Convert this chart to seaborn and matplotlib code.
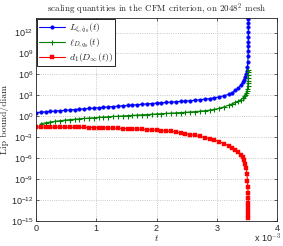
import matplotlib
matplotlib.use("Agg")
import matplotlib.pyplot as plt
import numpy as np
import pandas as pd
import seaborn as sns

# t in units of 1e-3, values as log10 exponents
t_main = [0.00, 0.08, 0.16, 0.24, 0.32, 0.40, 0.48, 0.56, 0.64, 0.72,
          0.80, 0.88, 0.96, 1.04, 1.12, 1.20, 1.28, 1.36, 1.44, 1.52,
          1.60, 1.68, 1.76, 1.84, 1.92, 2.00, 2.08, 2.16, 2.24, 2.32,
          2.40, 2.48, 2.56, 2.64, 2.72, 2.80, 2.88, 2.96, 3.04, 3.12, 3.20]
t_tail = [3.26, 3.31, 3.36, 3.40, 3.43, 3.455, 3.475, 3.49, 3.50, 3.51,
          3.516, 3.52, 3.522, 3.523, 3.524, 3.5245, 3.525, 3.5253, 3.5256, 3.526]

L_xi_log = [0.53, 0.58, 0.64, 0.69, 0.75, 0.80, 0.85, 0.91, 0.96, 1.02,
            1.07, 1.12, 1.18, 1.23, 1.29, 1.34, 1.39, 1.45, 1.50, 1.56,
            1.61, 1.66, 1.72, 1.77, 1.83, 1.88, 1.93, 1.98, 2.03, 2.08,
            2.13, 2.18, 2.24, 2.30, 2.37, 2.45, 2.54, 2.65, 2.78, 2.95, 3.15,
            3.40, 3.70, 4.05, 4.45, 4.85, 5.25, 5.65, 6.05, 6.50, 7.10,
            7.80, 8.60, 9.30, 10.0, 10.7, 11.4, 12.1, 12.8, 13.4, 14.0]

ell_D_log = [-1.05, -0.93, -0.82, -0.72, -0.63, -0.55, -0.48, -0.42, -0.36,
             -0.31, -0.26, -0.21, -0.16, -0.11, -0.07, -0.03, 0.01, 0.05,
             0.09, 0.13, 0.17, 0.21, 0.25, 0.29, 0.33, 0.37, 0.41, 0.45,
             0.49, 0.53, 0.57, 0.62, 0.67, 0.73, 0.80, 0.88, 0.98, 1.15,
             1.35, 1.60,
             1.80, 1.98, 2.18, 2.38, 2.60, 2.85, 3.10, 3.35, 3.60, 3.95,
             4.30, 4.70, 5.10, 5.50, 5.90, 6.30, 6.60]

d1_log = [-1.54, -1.54, -1.54, -1.55, -1.55, -1.56, -1.56, -1.57, -1.58,
          -1.59, -1.60, -1.61, -1.62, -1.64, -1.66, -1.68, -1.70, -1.72,
          -1.75, -1.78, -1.81, -1.84, -1.88, -1.92, -1.96, -2.00, -2.05,
          -2.10, -2.16, -2.23, -2.40, -2.50, -2.62, -2.75, -2.89, -3.04,
          -3.20, -3.39, -3.62, -3.90, -4.25,
          -4.55, -4.85, -5.15, -5.50, -5.90, -6.30, -6.80, -7.40, -8.20,
          -9.20, -10.2, -11.0, -11.7, -12.4, -13.0, -13.6, -14.1, -14.5]

labels = [r"$L_{\xi,\hat{q}_0}(t)$", r"$\ell_{D,q_0}(t)$", r"$d_1(D_\infty(t))$"]
colors = ["#0000ff", "#008000", "#ff0000"]
markers = ["o", "+", "s"]
msizes = [2.6, 3.6, 2.5]
medges = [0.3, 0.8, 0.3]

t_all = t_main + t_tail
series = [
    pd.DataFrame({"t": t_all, "val": 10.0 ** np.array(L_xi_log)}),
    pd.DataFrame({"t": t_all[1:len(ell_D_log) + 1], "val": 10.0 ** np.array(ell_D_log)}),
    pd.DataFrame({"t": t_all[:len(d1_log)], "val": 10.0 ** np.array(d1_log)}),
]

sns.set_theme(style="ticks")
plt.rcParams["font.family"] = ["Liberation Sans", "DejaVu Sans"]
plt.rcParams["mathtext.fontset"] = "cm"

fig = plt.figure(figsize=(2.83, 2.46), dpi=100)
ax = fig.add_axes([36 / 283, 1 - 221 / 246, 241 / 283, 203 / 246])

for d, lbl, c, m, ms, mew in zip(series, labels, colors, markers, msizes, medges):
    sns.lineplot(data=d, x="t", y="val", sort=False, estimator=None, ax=ax,
                 color=c, marker=m, markersize=ms, markeredgewidth=mew,
                 markeredgecolor=c, linewidth=0.8, label=lbl)

ax.set_yscale("log")
ax.set_xlim(0, 4)
ax.set_ylim(1e-15, 1.2e14)
ax.set_xticks([0, 1, 2, 3, 4])
ax.set_yticks([10.0 ** k for k in range(-15, 13, 3)])
ax.minorticks_off()
ax.grid(True, linestyle=":", color="#b8b8b8", linewidth=0.6)
ax.tick_params(direction="in", labelsize=6.5, length=2, width=0.5,
               top=True, right=True, pad=2)
for sp in ax.spines.values():
    sp.set_linewidth(0.6)
    sp.set_color("#222222")

ax.set_xlabel(r"$t$", fontsize=7, labelpad=0)
ax.set_ylabel("Lip bound/diam", fontsize=7, family="cmr10")
ax.yaxis.set_label_coords(-0.112, 0.5)
ax.set_title(r"scaling quantities in the CFM criterion, on 2048$^2$ mesh",
             fontsize=6.5, family="cmr10", pad=4)
ax.text(1.017, -0.084, r"x 10$^{-3}$", transform=ax.transAxes, ha="right",
        va="center", fontsize=6.5)

leg = ax.legend(loc="upper left", fancybox=False,
                edgecolor="black", framealpha=1, fontsize=7,
                borderaxespad=0.15, borderpad=0.2, labelspacing=0.1,
                handlelength=2.6, handletextpad=0.4)
leg.get_frame().set_linewidth(0.6)

fig.savefig("out.png", dpi=100)
